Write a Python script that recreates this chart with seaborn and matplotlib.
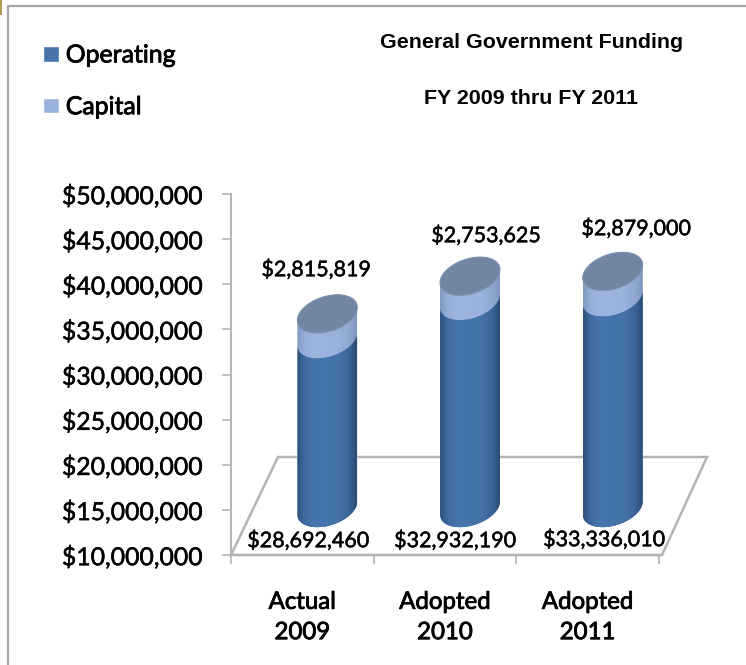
# General Government Funding, fake 3D cylinders like the Excel original
import numpy as np
import matplotlib
matplotlib.use('Agg')
import matplotlib.pyplot as plt
import matplotlib.patheffects as pe
import seaborn as sns
from matplotlib.colors import LinearSegmentedColormap
from matplotlib.patches import PathPatch, Polygon, Rectangle
from matplotlib.path import Path
from matplotlib.lines import Line2D

categories = ['Actual\n2009', 'Adopted\n2010', 'Adopted\n2011']
operating = [28692460, 32932190, 33336010]
capital = [2815819, 2753625, 2879000]
y_ticks = [10000000, 15000000, 20000000, 25000000, 30000000,
           35000000, 40000000, 45000000, 50000000]

W, H = 746, 665
sns.set_theme(style='white')
plt.rcParams['font.family'] = ['Lato', 'DejaVu Sans']
GREY = '#b4b4b4'
LABEL = 24.8 * 0.72
XLABEL = 24 * 0.72
DATA = 21.5 * 0.72
TITLE = 21.4 * 0.72
# Lato has no semibold here, so thicken the regular weight a little
HEAVY = [pe.withStroke(linewidth=0.35, foreground='black')]


def px(x, y):
    return x / W, 1 - y / H


fig = plt.figure(figsize=(W / 100, H / 100), dpi=100, facecolor='white')
ax = fig.add_axes([231 / W, 1 - 555 / H, 428 / W, 361 / H])

total = [o + c for o, c in zip(operating, capital)]
sns.barplot(x=categories, y=total, color='#9bb3dc', width=0.42, saturation=1, ax=ax, zorder=3)
n_cap = len(ax.patches)
sns.barplot(x=categories, y=operating, color='#4674ab', width=0.42, saturation=1, ax=ax, zorder=5)
cap_bars = ax.patches[:n_cap]
op_bars = ax.patches[n_cap:]

ax.set_xlim(-0.5, 2.5)
ax.set_ylim(10000000, 50000000)
ux = 3 / 428                 # data per pixel, x
uy = 40000000 / 361          # data per pixel, y

# depth shift of the bars and ellipse shape, in pixels
shift_x, shift_y = 25 * ux, 47 * uy
tilt, minor = 6.5 * uy, 18 * uy

op_map = LinearSegmentedColormap.from_list('op', [(0, '#2c5078'), (0.12, '#3f6aa0'), (0.3, '#4675ae'),
                                                  (0.7, '#4473a9'), (0.88, '#3a6496'), (1, '#2a4c74')])
cap_map = LinearSegmentedColormap.from_list('cap', [(0, '#8299c2'), (0.12, '#96aed8'), (0.3, '#9db5de'),
                                                    (0.7, '#9ab2dc'), (0.88, '#8fa7d0'), (1, '#7f95bd')])
strip = np.linspace(0, 1, 120).reshape(1, -1)


def ring(cx, cy, r, t0, t1):
    t = np.linspace(t0, t1, 50)
    return np.c_[cx + r * np.cos(t), cy + tilt * np.cos(t) + minor * np.sin(t)]


def body(bar, cmap, top_front, z):
    cx = bar.get_x() + bar.get_width() / 2 + shift_x
    r = bar.get_width() / 2
    y0 = 10000000 + shift_y
    y1 = bar.get_height() + shift_y
    bottom = ring(cx, y0, r, np.pi, 2 * np.pi)
    if top_front:
        top = ring(cx, y1, r, 2 * np.pi, np.pi)
    else:
        top = ring(cx, y1, r, 0, np.pi)
    verts = np.r_[bottom, top, bottom[:1]]
    shape = PathPatch(Path(verts), transform=ax.transData)
    # seaborn bar stays as the mark, only moved back and cut to the cylinder
    bar.set_x(cx - r)
    bar.set_y(y0 - 25 * uy)
    bar.set_height(y1 - y0 + 50 * uy)
    bar.set_clip_path(shape)
    im = ax.imshow(strip, extent=[cx - r, cx + r, y0 - 25 * uy, y1 + 25 * uy], aspect='auto',
                   cmap=cmap, zorder=z + 0.5, interpolation='bilinear')
    im.set_clip_path(shape)
    return cx, y1, r


for bar in cap_bars:
    cx, y1, r = body(bar, cap_map, False, 3)
    ax.add_patch(Polygon(ring(cx, y1, r, 0, 2 * np.pi), closed=True, facecolor='#7285a3',
                         edgecolor='#7d90ae', linewidth=0.8, zorder=4))
for bar in op_bars:
    body(bar, op_map, True, 5)

ax.set_xlim(-0.5, 2.5)
ax.set_ylim(10000000, 50000000)

# floor of the 3D box
ax.add_patch(Polygon([(0, 0), (47 / 428, 98 / 361), (476 / 428, 98 / 361), (431 / 428, 0)], closed=True,
                     transform=ax.transAxes, fill=False, edgecolor=GREY, linewidth=1.8,
                     clip_on=False, zorder=1))

# axes
for s in ['top', 'right']:
    ax.spines[s].set_visible(False)
for s in ['left', 'bottom']:
    ax.spines[s].set_color(GREY)
    ax.spines[s].set_linewidth(1.5)
ax.set_yticks(y_ticks)
ax.set_yticklabels([f'${v:,}' for v in y_ticks], fontsize=LABEL, color='black', path_effects=HEAVY)
ax.tick_params(axis='y', length=6.5, width=1.2, color=GREY, left=True, pad=14)
ax.set_xticks([-0.5, 0.5, 1.5, 2.5])
ax.set_xticklabels(['', '', '', ''])
ax.tick_params(axis='x', which='major', length=6.5, width=1.2, color=GREY, bottom=True)
ax.set_xticks([0, 1, 2], categories, minor=True)
ax.tick_params(axis='x', which='minor', length=0, pad=26.5)
for t in ax.get_xticklabels(minor=True):
    t.set_fontsize(XLABEL)
    t.set_color('black')
    t.set_linespacing(1.55)
    t.set_path_effects([pe.withStroke(linewidth=0.6, foreground='black')])
ax.set_xlabel('')
ax.set_ylabel('')

# data labels
op_pos = [(308, 541), (455, 541), (604, 540)]
cap_pos = [(316, 270), (486, 236), (636, 229)]
for v, p in zip(operating, op_pos):
    fig.text(*px(*p), f'${v:,}', fontsize=DATA, ha='center', va='center', color='black', zorder=9, path_effects=HEAVY)
for v, p in zip(capital, cap_pos):
    fig.text(*px(*p), f'${v:,}', fontsize=DATA, ha='center', va='center', color='black', zorder=9, path_effects=HEAVY)

# legend
handles = [Rectangle((0, 0), 1, 1, facecolor='#4674ab'), Rectangle((0, 0), 1, 1, facecolor='#9bb3dc')]
leg = fig.legend(handles, ['Operating', 'Capital'], loc='upper left', bbox_to_anchor=px(36, 36), frameon=False,
                 prop={'family': 'Lato', 'size': LABEL}, handlelength=0.61, handleheight=0.61,
                 handletextpad=0.29, labelspacing=1.16, borderpad=0.3, borderaxespad=0, labelcolor='black')
for t in leg.get_texts():
    t.set_path_effects([pe.withStroke(linewidth=0.6, foreground='black')])

# titles
fig.text(*px(532, 43), 'General Government Funding', fontsize=TITLE, fontweight='bold',
         family='Liberation Sans', ha='center', va='center', color='black')
fig.text(*px(531, 99), 'FY 2009 thru FY 2011', fontsize=TITLE, fontweight='bold',
         family='Liberation Sans', ha='center', va='center', color='black')

# outer frame of the pasted picture
fig.add_artist(Line2D([8 / W, 8 / W, 1], [0, 1 - 6 / H, 1 - 6 / H], transform=fig.transFigure,
                      color='#a6a6a6', linewidth=1.6))
fig.add_artist(Rectangle((0, 1 - 15 / H), 2 / W, 15 / H, transform=fig.transFigure, facecolor='#b59a55', edgecolor='none'))

plt.savefig('out.png', dpi=100, facecolor='white')
